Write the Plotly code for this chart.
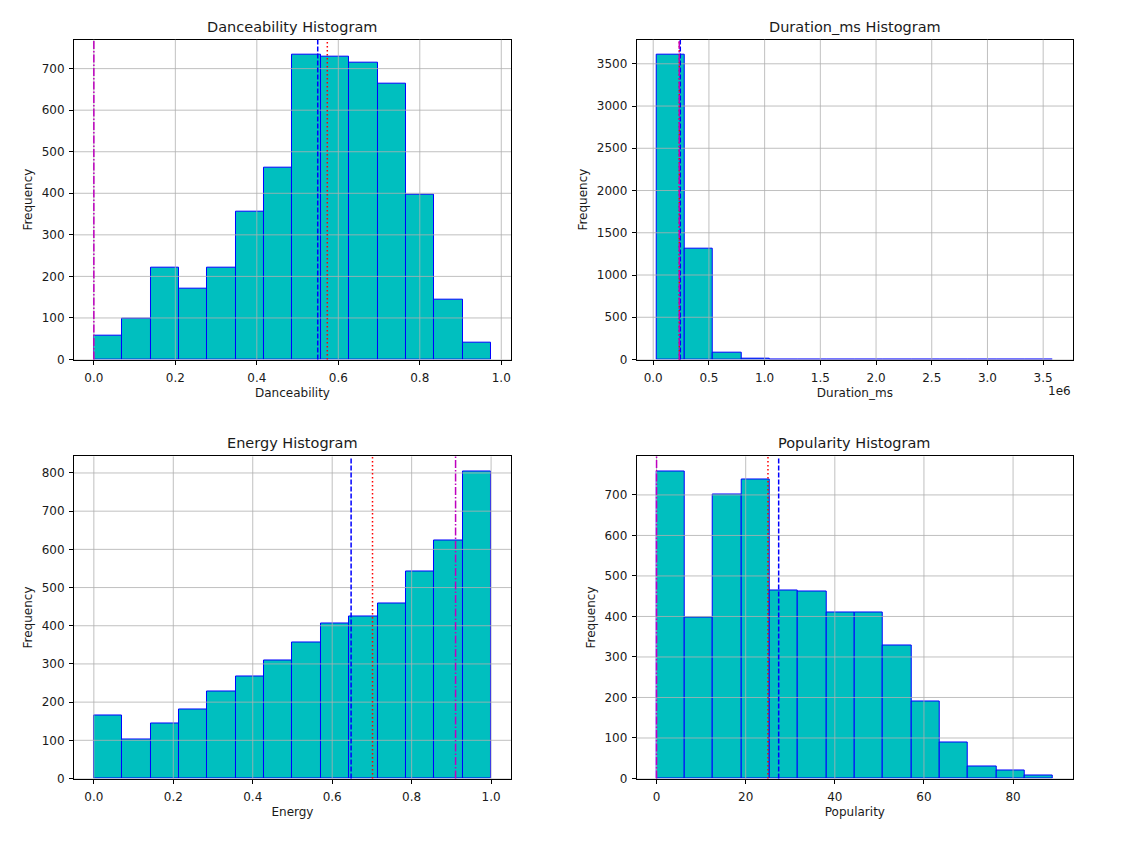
import numpy as np
import plotly.graph_objects as go

# ---------------- data ----------------
n_bins = 14

danceability_counts = [58, 98, 220, 170, 222, 355, 462, 733, 728, 715, 663, 396, 144, 40]
danceability_range = [0.0, 0.975]
danceability_stats = {"mean": 0.5495, "median": 0.573, "mode": 0.0}

duration_counts = [3605, 1308, 86, 12, 3, 1, 1, 0, 1, 0, 0, 0, 0, 1]
duration_range = [30000, 3590000]
duration_stats = {"mean": 243000, "median": 234000, "mode": 234000}

energy_counts = [165, 102, 145, 180, 227, 268, 309, 357, 405, 423, 459, 542, 623, 803]
energy_range = [0.0, 1.0]
energy_stats = {"mean": 0.6476, "median": 0.7015, "mode": 0.9106}

popularity_counts = [757, 398, 702, 739, 463, 461, 409, 411, 329, 189, 88, 29, 19, 8]
popularity_range = [0, 89]
popularity_stats = {"mean": 27.4, "median": 25.0, "mode": 0.0}

# tick values / labels
unit_xticks = [0.0, 0.2, 0.4, 0.6, 0.8, 1.0]
unit_xticklabels = ["0.0", "0.2", "0.4", "0.6", "0.8", "1.0"]
duration_xticks = [0, 500000, 1000000, 1500000, 2000000, 2500000, 3000000, 3500000]
duration_xticklabels = ["0.0", "0.5", "1.0", "1.5", "2.0", "2.5", "3.0", "3.5"]
popularity_xticks = [0, 20, 40, 60, 80]
popularity_xticklabels = ["0", "20", "40", "60", "80"]
danceability_yticks = [0, 100, 200, 300, 400, 500, 600, 700]
duration_yticks = [0, 500, 1000, 1500, 2000, 2500, 3000, 3500]
energy_yticks = [0, 100, 200, 300, 400, 500, 600, 700, 800]
popularity_yticks = [0, 100, 200, 300, 400, 500, 600, 700]

panels = [
    dict(name="Danceability", counts=danceability_counts, rng=danceability_range,
         stats=danceability_stats, xt=unit_xticks, xtl=unit_xticklabels, yt=danceability_yticks,
         xd=[0.0660, 0.4558], yd=[0.5715, 0.9527]),
    dict(name="Duration_ms", counts=duration_counts, rng=duration_range,
         stats=duration_stats, xt=duration_xticks, xtl=duration_xticklabels, yt=duration_yticks,
         xd=[0.5680, 0.9572], yd=[0.5715, 0.9527]),
    dict(name="Energy", counts=energy_counts, rng=energy_range,
         stats=energy_stats, xt=unit_xticks, xtl=unit_xticklabels, yt=energy_yticks,
         xd=[0.0660, 0.4558], yd=[0.0721, 0.4559]),
    dict(name="Popularity", counts=popularity_counts, rng=popularity_range,
         stats=popularity_stats, xt=popularity_xticks, xtl=popularity_xticklabels, yt=popularity_yticks,
         xd=[0.5680, 0.9572], yd=[0.0721, 0.4559]),
]

FONT = "DejaVu Sans"
BAR_FILL = "#00BFBF"
BAR_EDGE = "#0000FF"
GRID = "#b0b0b0"
TEXT = "#1a1a1a"

fig = go.Figure()
layout = dict(
    width=1121, height=846,
    margin=dict(l=0, r=0, t=0, b=0),
    paper_bgcolor="white", plot_bgcolor="white",
    showlegend=False, bargap=0,
    font=dict(family=FONT, size=12, color=TEXT),
)
shapes = []
annotations = []

for i, p in enumerate(panels):
    k = "" if i == 0 else str(i + 1)
    xa, ya = "x" + k, "y" + k
    edges = np.linspace(p["rng"][0], p["rng"][1], n_bins + 1)
    centers = (edges[:-1] + edges[1:]) / 2
    widths = np.diff(edges)
    fig.add_trace(go.Bar(
        x=centers, y=p["counts"], width=widths,
        marker=dict(color=BAR_FILL, line=dict(color=BAR_EDGE, width=1)),
        xaxis=xa, yaxis=ya, hoverinfo="x+y",
    ))
    s = p["stats"]
    lo = min(edges[0], s["mean"], s["median"], s["mode"])
    hi = max(edges[-1], s["mean"], s["median"], s["mode"])
    pad = 0.05 * (hi - lo)
    ymax = 1.05 * max(p["counts"])

    axis_common = dict(
        showgrid=False, zeroline=False, showline=True, linecolor="black", linewidth=1,
        mirror=True, ticks="outside", ticklen=4, tickwidth=1, tickcolor="black",
        tickfont=dict(family=FONT, size=12, color=TEXT),
    )
    layout["xaxis" + k] = dict(
        axis_common, domain=p["xd"], anchor=ya, range=[lo - pad, hi + pad],
        tickmode="array", tickvals=p["xt"], ticktext=p["xtl"], ticklabelstandoff=3,
        title=dict(text=p["name"], font=dict(family=FONT, size=12, color=TEXT), standoff=4),
    )
    layout["yaxis" + k] = dict(
        axis_common, domain=p["yd"], anchor=xa, range=[0, ymax],
        tickmode="array", tickvals=p["yt"], ticklabelstandoff=2,
        title=dict(text="Frequency", font=dict(family=FONT, size=12, color=TEXT), standoff=6),
    )

    # grid lines above the bars (like matplotlib's default)
    for v in p["xt"]:
        shapes.append(dict(type="line", xref=xa, yref=ya + " domain", x0=v, x1=v, y0=0, y1=1,
                           line=dict(color=GRID, width=0.8), layer="above"))
    for v in p["yt"]:
        shapes.append(dict(type="line", xref=xa + " domain", yref=ya, x0=0, x1=1, y0=v, y1=v,
                           line=dict(color=GRID, width=0.8), layer="above"))
    # mean / median / mode lines
    shapes.append(dict(type="line", xref=xa, yref=ya + " domain", x0=s["mean"], x1=s["mean"], y0=0, y1=1,
                       line=dict(color="#0000FF", width=1.5, dash="5px,2px"), layer="above"))
    shapes.append(dict(type="line", xref=xa, yref=ya + " domain", x0=s["median"], x1=s["median"], y0=0, y1=1,
                       line=dict(color="#FF0000", width=1.5, dash="1.5px,2.5px"), layer="above"))
    shapes.append(dict(type="line", xref=xa, yref=ya + " domain", x0=s["mode"], x1=s["mode"], y0=0, y1=1,
                       line=dict(color="#BF00BF", width=1.5, dash="8px,2px,1.5px,2px"), layer="above"))

    annotations.append(dict(
        text=p["name"] + " Histogram", xref=xa + " domain", yref=ya + " domain",
        x=0.5, y=1, xanchor="center", yanchor="bottom", yshift=3, showarrow=False,
        font=dict(family=FONT, size=14.5, color=TEXT),
    ))

# offset label for the duration axis
annotations.append(dict(
    text="1e6", xref="x2 domain", yref="y2 domain", x=1, y=0, xanchor="right", yanchor="middle",
    yshift=-31, showarrow=False, font=dict(family=FONT, size=12, color=TEXT),
))

layout["shapes"] = shapes
layout["annotations"] = annotations
fig.update_layout(**layout)
fig.write_html("out.html")
